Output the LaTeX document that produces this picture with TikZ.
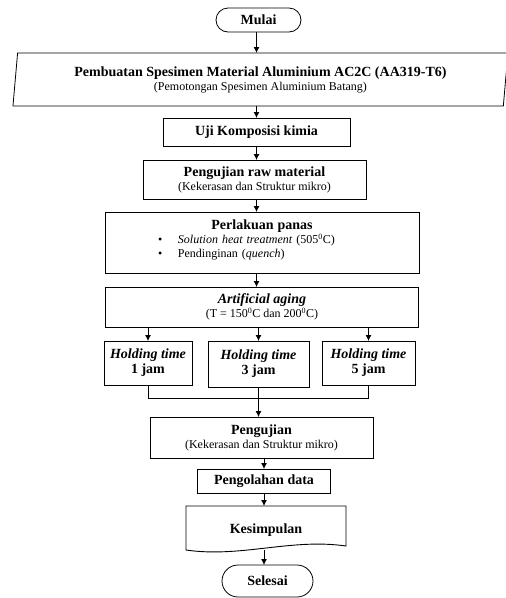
\documentclass[tikz,border=0pt]{standalone}
\usepackage{fontspec}
\setmainfont{Liberation Serif}
\usetikzlibrary{arrows.meta,positioning,shapes.geometric}

\newcommand{\judul}[1]{{\fontsize{14}{16}\selectfont\textbf{#1}}}

\begin{document}
\begin{tikzpicture}[
  x=1pt, y=1pt,
  font=\fontsize{12}{14}\selectfont,
  box/.style={
    draw, line width=0.8pt, inner sep=0pt, outer sep=0pt, align=center
  },
  terminal/.style={
    box, rounded corners=12pt, minimum width=85pt, minimum height=24pt
  },
  inputbox/.style={
    draw, line width=0.8pt, trapezium, trapezium left angle=80,
    trapezium right angle=100, trapezium stretches body,
    inner sep=0pt, outer sep=0pt, align=center,
    minimum width=495pt, minimum height=53pt
  },
  dokumen/.style={
    inner sep=0pt, outer sep=0pt, align=center,
    minimum width=160pt, minimum height=48pt
  },
  hold/.style={box},
  line/.style={line width=0.9pt},
  arrow/.style={-{Latex[length=6pt,width=6pt]}, line width=0.9pt}
]
\useasboundingbox (0,0) rectangle (506,-598);

\node[terminal] (mulai) at (258.5,-20) {\judul{Mulai}};

\node[inputbox, below=21pt of mulai, xshift=2pt] (spesimen) {
\judul{Pembuatan Spesimen Material Aluminium AC2C (AA319-T6)}\\
(Pemotongan Spesimen Aluminium Batang)
};

\node[box, below=12pt of spesimen, xshift=-4pt,
  minimum width=187pt, minimum height=28pt] (uji) {\judul{Uji Komposisi kimia}};

\node[box, below=14pt of uji, xshift=-2pt,
  minimum width=223pt, minimum height=39pt] (raw) {
\judul{Pengujian raw material}\\
(Kekerasan dan Struktur mikro)
};

\node[box, below=13pt of raw, xshift=7.5pt, align=left,
  text width=314pt, minimum height=61pt] (panas) {
{\centering\judul{Perlakuan panas}\par}
\hspace*{53pt}\makebox[20pt][l]{\textbullet}\textit{Solution heat treatment} (505\textsuperscript{0}C)\\
\hspace*{53pt}\makebox[20pt][l]{\textbullet}Pendinginan (\textit{quench})\\[-7pt]
\mbox{}
};

\node[box, below=14pt of panas,
  minimum width=313pt, minimum height=40pt] (aging) {
\judul{\textit{Artificial aging}}\\
(T = 150\textsuperscript{0}C dan 200\textsuperscript{0}C)
};

% holding time
\node[hold, below=14pt of aging, xshift=-3.5pt,
  minimum width=101pt, minimum height=46pt] (hold2) {\judul{\textit{Holding time}}\\[1pt]\judul{3 jam}};
\node[hold, anchor=north east, minimum width=88pt, minimum height=44pt]
  (hold1) at ([xshift=-16pt]hold2.north west) {\judul{\textit{Holding time}}\\[1pt]\judul{1 jam}};
\node[hold, anchor=north west, minimum width=93pt, minimum height=44pt]
  (hold3) at ([xshift=13pt]hold2.north east) {\judul{\textit{Holding time}}\\[1pt]\judul{5 jam}};
\coordinate (gabung) at ([yshift=-11pt]hold2.south);

\node[box, below=30pt of hold2, xshift=3pt,
  minimum width=223pt, minimum height=41pt] (pengujian) {
\judul{Pengujian}\\
(Kekerasan dan Struktur mikro)
};

\node[box, below=11pt of pengujian, xshift=2.5pt,
  minimum width=133pt, minimum height=24pt] (olah) {\judul{Pengolahan data}};

\node[dokumen, below=13pt of olah, xshift=2pt] (simpulan) {\judul{Kesimpulan}};
\draw[line] (simpulan.north west) -- (simpulan.north east)
  -- ([yshift=8pt]simpulan.south east)
  .. controls ([xshift=-55pt,yshift=16pt]simpulan.south east)
  and ([xshift=55pt,yshift=-4pt]simpulan.south west)
  .. ([yshift=4pt]simpulan.south west) -- cycle;
\coordinate (ujung) at ([yshift=4pt]simpulan.south);

\node[terminal, below=11pt of simpulan, xshift=1.5pt, rounded corners=16pt,
  minimum width=91pt, minimum height=32pt] (selesai) {\judul{Selesai}};

\draw[arrow] (mulai.south -| uji) -- (spesimen.north -| uji);
\draw[arrow] (spesimen.south -| uji) -- (uji.north);
\draw[arrow] (uji.south) -- (raw.north -| uji);
\draw[arrow] (raw.south -| uji) -- (panas.north -| uji);
\draw[arrow] (panas.south -| uji) -- (aging.north -| uji);
\foreach \h in {hold1,hold2,hold3}
  \draw[arrow] (aging.south -| \h) -- (\h.north);
\draw[line] (hold1.south) |- (gabung) -| (hold3.south);
\draw[arrow] (hold2.south) -- (pengujian.north -| hold2);
\draw[arrow] (pengujian.south -| olah) -- (olah.north);
\draw[arrow] (olah.south) -- (simpulan.north -| olah);
\draw[arrow] (ujung -| olah) -- (selesai.north -| olah);

\end{tikzpicture}
\end{document}
